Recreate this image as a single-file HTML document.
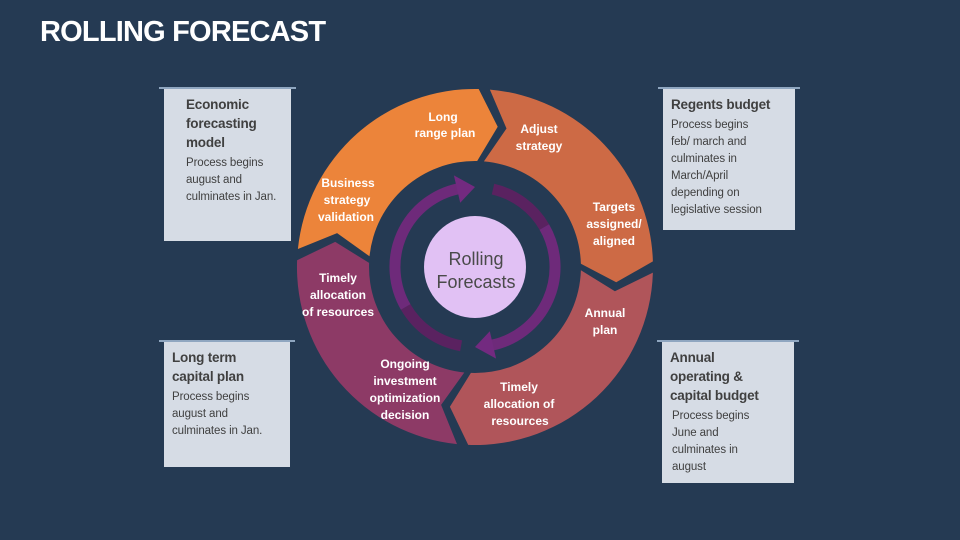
<!DOCTYPE html>
<html><head><meta charset="utf-8"><style>
html,body{margin:0;padding:0}
body{width:960px;height:540px;background:#253a53;position:relative;overflow:hidden;font-family:"Liberation Sans",Arial,sans-serif}
.title{position:absolute;left:40px;top:16px;color:#fff;font-weight:bold;font-size:29px;letter-spacing:-0.8px}
.box{position:absolute;background:#d6dce5;color:#404040;box-sizing:border-box;padding:6px 0 0 22px;white-space:nowrap}
.box:before{content:"";position:absolute;left:-5px;right:-5px;top:-2px;height:2px;background:#8fa6c0}
.box h3{margin:0;font-size:13.5px;line-height:19px;font-weight:bold;letter-spacing:-0.2px}
.box p{margin:3px 0 0;font-size:11.5px;line-height:17px;letter-spacing:-0.1px}
svg{position:absolute;left:0;top:0}
</style></head><body>
<div class="title">ROLLING FORECAST</div>
<div class="box" style="left:164px;top:89px;width:127px;height:152px"><h3>Economic<br>forecasting<br>model</h3><p>Process begins<br>august and<br>culminates in Jan.</p></div>
<div class="box" style="left:663px;top:89px;width:132px;height:141px;padding-left:8px"><h3>Regents budget</h3><p>Process begins<br>feb/ march and<br>culminates in<br>March/April<br>depending on<br>legislative session</p></div>
<div class="box" style="left:164px;top:342px;width:126px;height:125px;padding-left:8px"><h3>Long term<br>capital plan</h3><p>Process begins<br>august and<br>culminates in Jan.</p></div>
<div class="box" style="left:662px;top:342px;width:132px;height:141px;padding-left:8px"><h3>Annual<br>operating &amp;<br>capital budget</h3><p style="padding-left:2px">Process begins<br>June and<br>culminates in<br>august</p></div>
<svg width="960" height="540" id="s">
<g id="ring"></g>
<circle cx="475" cy="267" r="51" fill="#e1c1f4"/>
<text x="476" y="265" text-anchor="middle" font-size="18" fill="#4a4a4a" font-family="Liberation Sans,sans-serif">Rolling</text>
<text x="476" y="288" text-anchor="middle" font-size="18" fill="#4a4a4a" font-family="Liberation Sans,sans-serif">Forecasts</text>
<g fill="#fff" font-size="12" font-weight="bold" text-anchor="middle" font-family="Liberation Sans,sans-serif">
<text x="443" y="121">Long</text><text x="445" y="137">range plan</text>
<text x="539" y="133">Adjust</text><text x="539" y="150">strategy</text>
<text x="348" y="187">Business</text><text x="347" y="204">strategy</text><text x="346" y="221">validation</text>
<text x="614" y="211">Targets</text><text x="614" y="228">assigned/</text><text x="614" y="245">aligned</text>
<text x="338" y="282">Timely</text><text x="338" y="299">allocation</text><text x="338" y="316">of resources</text>
<text x="605" y="317">Annual</text><text x="605" y="334">plan</text>
<text x="405" y="368">Ongoing</text><text x="405" y="385">investment</text><text x="405" y="402">optimization</text><text x="405" y="419">decision</text>
<text x="519" y="391">Timely</text><text x="519" y="408">allocation of</text><text x="520" y="425">resources</text>
</g>
</svg>
<script>
(function(){
var cx=475,cy=267,R=178,r=106,m=(R+r)/2,d=8,g=1.8;
function P(rad,a){a=a*Math.PI/180;return (cx+rad*Math.cos(a)).toFixed(1)+","+(cy+rad*Math.sin(a)).toFixed(1);}
var segs=[[184,273,"#ec843a"],[273,360,"#cd6a45"],[0,94,"#b0555a"],[94,184,"#8d3a66"]];
var h="";
segs.forEach(function(s){
 var a=s[0]+g,b=s[1]-g;
 h+='<path fill="'+s[2]+'" d="M'+P(R,a)+' A'+R+','+R+' 0 0 1 '+P(R,b)+' L'+P(m,b+d)+' L'+P(r,b)+' A'+r+','+r+' 0 0 0 '+P(r,a)+' L'+P(m,a+d)+' Z"/>';
});
var ar=80,w=11;
function arc(a1,a2,col){return '<path fill="none" stroke="'+col+'" stroke-width="'+w+'" d="M'+P(ar,a1)+' A'+ar+','+ar+' 0 0 1 '+P(ar,a2)+'"/>';}
h+=arc(100,150,"#5a2260")+arc(150,258,"#6e2a7a");
h+='<polygon fill="#732a80" points="'+P(ar-14,257)+' '+P(ar+14,257)+' '+P(ar,270)+'"/>';
h+=arc(-77,-30,"#5a2260")+arc(-30,78,"#6e2a7a");
h+='<polygon fill="#732a80" points="'+P(ar-14,77)+' '+P(ar+14,77)+' '+P(ar,90)+'"/>';
document.getElementById("ring").innerHTML=h;
})();
</script>
</body></html>
